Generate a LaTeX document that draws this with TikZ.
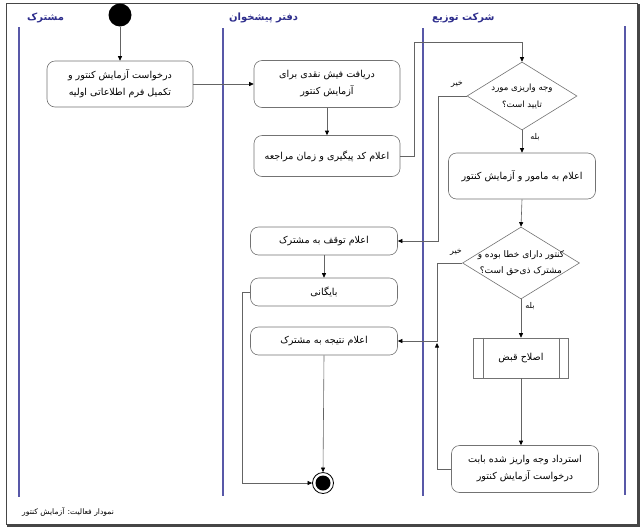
\documentclass[tikz,border=0pt]{standalone}
\usepackage{fontspec}
\newfontfamily\fa[Script=Arabic]{DejaVu Sans}
\TeXXeTstate=1
\usetikzlibrary{shapes.geometric,arrows.meta}
\newcommand\rl[1]{\beginR #1\endR}
\definecolor{laneblue}{RGB}{88,88,168}
\definecolor{titleblue}{RGB}{45,45,140}
\definecolor{boxgray}{RGB}{115,115,115}
\definecolor{linegray}{RGB}{100,100,100}
\definecolor{framegray}{RGB}{70,70,70}
\begin{document}
\begin{tikzpicture}[x=1pt,y=-1pt,
  lane/.style={draw=laneblue,line width=1.4pt},
  lanetitle/.style={text=titleblue,font={\fa\bfseries\fontsize{10}{12}\selectfont},anchor=west,inner sep=0},
  actbox/.style={draw=boxgray,line width=0.6pt,rounded corners=8pt,fill=white,align=center,
     font={\fa\fontsize{9.6}{17}\selectfont},inner sep=2pt},
  dia/.style={diamond,draw=boxgray,line width=0.6pt,inner sep=0,fill=white},
  diatext/.style={align=center,font={\fa\fontsize{9}{16}\selectfont},inner sep=0},
  guard/.style={font={\fa\fontsize{8}{9}\selectfont},inner sep=0},
  conn/.style={draw=linegray,line width=0.6pt},
  arr/.style={conn,-{Triangle[length=4.5pt,width=4pt,color=black]}}]
\useasboundingbox (0,0) rectangle (643,531);
% frame
\draw[framegray,line width=0.8pt] (6,3) rectangle (637,524);
\draw[framegray,line width=2.4pt] (638.5,4) -- (638.5,525.5) -- (7,525.5);
% lanes
\draw[lane] (19,27) -- (19,497);
\draw[lane] (223,28) -- (223,496);
\draw[lane] (423,28) -- (423,496);
\draw[lane] (625,26) -- (625,495);
\node[lanetitle] (t1) at (27,18) {\rl{مشترک}};
\node[lanetitle] (t2) at (229,18) {\rl{دفتر پیشخوان}};
\node[lanetitle] (t3) at (432,18) {\rl{شرکت توزیع}};
% nodes
\node[circle,fill=black,minimum size=23pt,inner sep=0] (start) at (120,15) {};
\node[actbox,minimum width=146pt,minimum height=46pt] (b1) at (120,84)
  {\rl{درخواست آزمایش کنتور و}\\\rl{تکمیل فرم اطلاعاتی اولیه}};
\node[actbox,minimum width=146pt,minimum height=47pt] (b2) at (327,84)
  {\rl{دریافت فیش نقدی برای}\\\rl{آزمایش کنتور}};
\node[actbox,minimum width=146pt,minimum height=41pt] (b3) at (327,156)
  {\rl{اعلام کد پیگیری و زمان مراجعه}};
\node[actbox,minimum width=147pt,minimum height=28pt] (b4) at (324,241)
  {\rl{اعلام توقف به مشترک}};
\node[actbox,minimum width=147pt,minimum height=28pt] (b5) at (324,292)
  {\rl{بایگانی}};
\node[actbox,minimum width=147pt,minimum height=28pt] (b6) at (324,341)
  {\rl{اعلام نتیجه به مشترک}};
\node[dia,minimum width=110pt,minimum height=68pt] (d1) at (522,96) {};
\node[diatext,font={\fa\fontsize{8.6}{17}\selectfont}] (d1t) at (d1) {\rl{وجه واریزی مورد}\\\rl{تایید است؟}};
\node[actbox,minimum width=147pt,minimum height=46pt] (b7) at (522,176)
  {\rl{اعلام به مامور و آزمایش کنتور}};
\node[dia,minimum width=117pt,minimum height=72pt] (d2) at (521,263) {};
\node[diatext] (d2t) at (d2) {\rl{کنتور دارای خطا بوده و}\\\rl{مشترک ذی‌حق است؟}};
\node[draw=boxgray,line width=0.6pt,fill=white,minimum width=95pt,minimum height=40pt,
  font={\fa\fontsize{9.6}{12}\selectfont}] (b8) at (521,358) {\rl{اصلاح قبض}};
\draw[boxgray,line width=0.6pt] ([xshift=10pt]b8.north west) -- ([xshift=10pt]b8.south west);
\draw[boxgray,line width=0.6pt] ([xshift=-10pt]b8.north east) -- ([xshift=-10pt]b8.south east);
\node[actbox,minimum width=147pt,minimum height=47pt] (b9) at (525,469)
  {\rl{استرداد وجه واریز شده بابت}\\\rl{درخواست آزمایش کنتور}};
\node[circle,draw=black,line width=0.8pt,minimum size=21pt,inner sep=0] (end) at (323,483) {};
\fill (end.center) circle (7.5pt);
% guards
\node[guard] (g1) at (457,84) {\rl{خیر}};
\node[guard] (g2) at (535,137) {\rl{بله}};
\node[guard] (g3) at (456,252) {\rl{خیر}};
\node[guard] (g4) at (530,306) {\rl{بله}};
% connectors
\coordinate (c1) at (414,42);
\coordinate (c2) at (438,241);
\coordinate (c3) at (437,341);
\coordinate (c5) at (437,343);
\coordinate (c6) at (242,483);
\draw[arr] (start) -- (b1);
\draw[arr] (b1) -- (b2);
\draw[arr] (b2) -- (b3);
\draw[arr] (b3.east) -| (c1) -| (d1.north);
\draw[arr] (d1.west) -| (c2) -- (b4.east);
\draw[arr] (d1.south) -- (b7.north);
\draw[arr] (b7.south) -- (d2.north);
\draw[arr] (d2.west) -| (c3) -- (b6.east);
\draw[arr] (d2.south) -- (b8.north);
\draw[arr] (b8.south) -- (b8.south |- b9.north);
\draw[arr] (b9.west) -| (c5);
\draw[arr] (b4) -- (b5);
\draw[arr] (b5.west) -| (c6) -- (end.west);
\draw[arr] (b6.south) -- (end.north);
% caption
\node[anchor=west,inner sep=0,font={\fa\fontsize{7.6}{9}\selectfont}] (cap) at (22,512)
  {\rl{نمودار فعالیت: آزمایش کنتور}};
\end{tikzpicture}
\end{document}
